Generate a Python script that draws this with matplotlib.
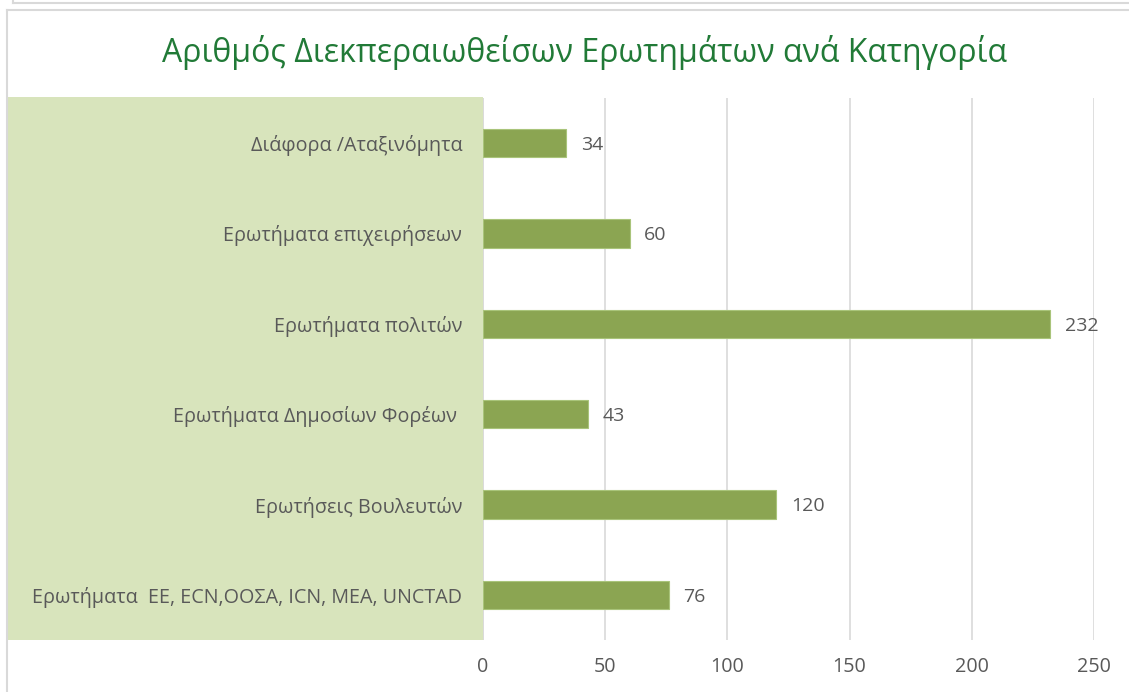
import matplotlib.pyplot as plt
from matplotlib.patches import Rectangle
from matplotlib.lines import Line2D

plt.rcParams['font.family'] = ['Open Sans', 'DejaVu Sans']

# δεδομένα (από πάνω προς τα κάτω)
categories = [
    "Διάφορα /Αταξινόμητα",
    "Ερωτήματα επιχειρήσεων",
    "Ερωτήματα πολιτών",
    "Ερωτήματα Δημοσίων Φορέων ",
    "Ερωτήσεις Βουλευτών",
    "Ερωτήματα  ΕΕ, ECN,ΟΟΣΑ, ICN, ΜΕΑ, UNCTAD",
]
values = [34, 60, 232, 43, 120, 76]
xticks = [0, 50, 100, 150, 200, 250]

W, H = 1129, 692
fig = plt.figure(figsize=(W / 100, H / 100), dpi=100)

# πλαίσια γραφήματος
fig.add_artist(Line2D([13 / W, 1], [1 - 3 / H, 1 - 3 / H], color='#d9d9d9', lw=1.5))
fig.add_artist(Line2D([13 / W, 13 / W], [1, 1 - 3 / H], color='#d9d9d9', lw=1.5))
fig.add_artist(Line2D([7 / W, 1], [1 - 10 / H, 1 - 10 / H], color='#d9d9d9', lw=1.5))
fig.add_artist(Line2D([7 / W, 7 / W], [1 - 10 / H, 0], color='#d9d9d9', lw=1.5))

# ανοιχτό πράσινο φόντο πίσω από τις ετικέτες
fig.add_artist(Rectangle((8 / W, 1 - 640 / H), (483 - 8) / W, (640 - 97) / H,
                         transform=fig.transFigure, facecolor='#d8e4bc',
                         edgecolor='none', zorder=0))

ax = fig.add_axes([483 / W, 1 - 640 / H, (1094 - 483) / W, (640 - 98) / H])
ax.patch.set_alpha(0)

y = list(range(len(categories)))
bars = ax.barh(y, values, height=0.31, color='#8ba552', edgecolor='#a9c47a',
               linewidth=0.8, zorder=3)
ax.set_ylim(len(categories) - 0.5, -0.5)
ax.set_xlim(0, 250)

for b, v in zip(bars, values):
    ax.text(b.get_width() + 6, b.get_y() + b.get_height() / 2 + 0.02, str(v),
            va='center', ha='left', fontsize=14, color='#595959')

ax.set_yticks(y)
ax.set_yticklabels(categories, fontsize=14.2, color='#595959')
ax.set_xticks(xticks)
ax.set_xticklabels([str(t) for t in xticks], fontsize=14.2, color='#595959')
ax.tick_params(axis='y', length=0, pad=15)
ax.tick_params(axis='x', length=0, pad=12)

ax.grid(axis='x', color='#d9d9d9', lw=1.2, zorder=0)
for s in ax.spines.values():
    s.set_visible(False)
ax.axvline(0, color='#d9d9d9', lw=1.2, zorder=1)

fig.text(585 / W, 1 - 52 / H, "Αριθμός Διεκπεραιωθείσων Ερωτημάτων ανά Κατηγορία",
         ha='center', va='center', fontsize=23, color='#217a37')

fig.savefig('out.png', dpi=100)
